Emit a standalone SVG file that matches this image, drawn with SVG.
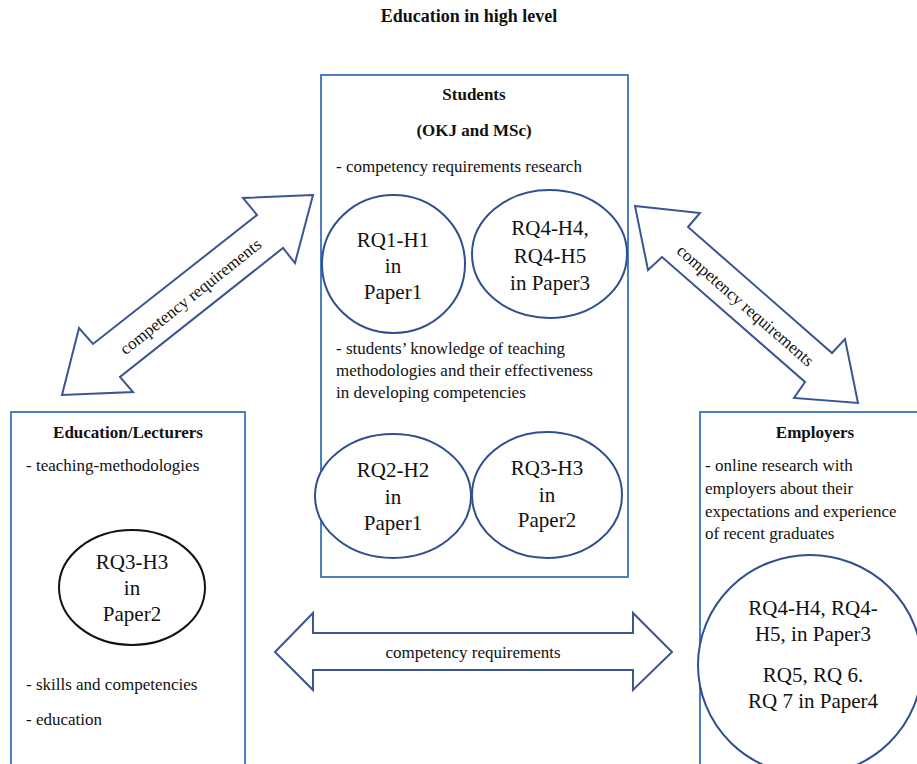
<svg xmlns="http://www.w3.org/2000/svg" width="917" height="764" viewBox="0 0 917 764">
<rect width="917" height="764" fill="#fff"/>
<text font-family="'Liberation Serif'" font-size="18" font-weight="bold" text-anchor="middle" fill="#111" x="469" y="22">Education in high level</text>
<g id="connectors">
<polygon fill="#fff" stroke="#3a5592" stroke-width="2" points="313,195 243,198 257,215 93,344 79,328 62,395 133,392 120,377 283,248 295,263"/>
<polygon fill="#fff" stroke="#3a5592" stroke-width="2" points="635,206 700,213 688,227 832,353 845,339 858,403 794,398 805,382 662,257 648,270"/>
<polygon fill="#fff" stroke="#3a5592" stroke-width="2" points="275,652 313,613 313,633 633,633 633,613 672,652 633,690 633,670 313,670 313,690"/>
<text font-family="'Liberation Serif'" font-size="17" text-anchor="middle" fill="#111" transform="translate(191,297) rotate(-38.5)" y="5">competency requirements</text>
<text font-family="'Liberation Serif'" font-size="17" text-anchor="middle" fill="#111" transform="translate(745,306) rotate(41)" y="5">competency requirements</text>
<text font-family="'Liberation Serif'" font-size="17" text-anchor="middle" fill="#111" x="473" y="658">competency requirements</text>
</g>
<g id="students">
<rect x="321" y="75" width="307" height="502" fill="#fff" stroke="#4a7fc4" stroke-width="2"/>
<ellipse cx="393.5" cy="264" rx="71.5" ry="69" fill="#fff" stroke="#2f4f8f" stroke-width="2"/>
<ellipse cx="549.5" cy="254" rx="77.5" ry="64" fill="#fff" stroke="#2f4f8f" stroke-width="2"/>
<ellipse cx="393" cy="496" rx="78" ry="62" fill="#fff" stroke="#2f4f8f" stroke-width="2"/>
<ellipse cx="547" cy="495" rx="75" ry="63" fill="#fff" stroke="#2f4f8f" stroke-width="2"/>
<text font-family="'Liberation Serif'" font-size="17" fill="#111" font-weight="bold" text-anchor="middle" x="474" y="100">Students</text>
<text font-family="'Liberation Serif'" font-size="17" fill="#111" font-weight="bold" text-anchor="middle" x="474" y="136">(OKJ and MSc)</text>
<text font-family="'Liberation Serif'" font-size="17" fill="#111" x="336" y="172">- competency requirements research</text>
<text font-family="'Liberation Serif'" font-size="17" fill="#111" x="336" y="354">- students&#8217; knowledge of teaching</text>
<text font-family="'Liberation Serif'" font-size="17" fill="#111" x="336" y="376">methodologies and their effectiveness</text>
<text font-family="'Liberation Serif'" font-size="17" fill="#111" x="336" y="398">in developing competencies</text>
<text font-family="'Liberation Serif'" font-size="21" text-anchor="middle" fill="#111" x="393" y="247">RQ1-H1</text>
<text font-family="'Liberation Serif'" font-size="21" text-anchor="middle" fill="#111" x="393" y="273">in</text>
<text font-family="'Liberation Serif'" font-size="21" text-anchor="middle" fill="#111" x="393" y="299">Paper1</text>
<text font-family="'Liberation Serif'" font-size="21" text-anchor="middle" fill="#111" x="550" y="235">RQ4-H4,</text>
<text font-family="'Liberation Serif'" font-size="21" text-anchor="middle" fill="#111" x="550" y="263">RQ4-H5</text>
<text font-family="'Liberation Serif'" font-size="21" text-anchor="middle" fill="#111" x="550" y="290">in Paper3</text>
<text font-family="'Liberation Serif'" font-size="21" text-anchor="middle" fill="#111" x="393" y="477">RQ2-H2</text>
<text font-family="'Liberation Serif'" font-size="21" text-anchor="middle" fill="#111" x="393" y="504">in</text>
<text font-family="'Liberation Serif'" font-size="21" text-anchor="middle" fill="#111" x="393" y="530">Paper1</text>
<text font-family="'Liberation Serif'" font-size="21" text-anchor="middle" fill="#111" x="547" y="475">RQ3-H3</text>
<text font-family="'Liberation Serif'" font-size="21" text-anchor="middle" fill="#111" x="547" y="502">in</text>
<text font-family="'Liberation Serif'" font-size="21" text-anchor="middle" fill="#111" x="547" y="527">Paper2</text>
</g>
<g id="education">
<rect x="11" y="412" width="234" height="400" fill="#fff" stroke="#4a7fc4" stroke-width="2"/>
<ellipse cx="132" cy="587.5" rx="73" ry="57.5" fill="#fff" stroke="#111" stroke-width="2"/>
<text font-family="'Liberation Serif'" font-size="17" fill="#111" font-weight="bold" text-anchor="middle" x="128" y="438">Education/Lecturers</text>
<text font-family="'Liberation Serif'" font-size="17" fill="#111" x="26" y="471">- teaching-methodologies</text>
<text font-family="'Liberation Serif'" font-size="17" fill="#111" x="26" y="690">- skills and competencies</text>
<text font-family="'Liberation Serif'" font-size="17" fill="#111" x="26" y="725">- education</text>
<text font-family="'Liberation Serif'" font-size="21" text-anchor="middle" fill="#111" x="132" y="569">RQ3-H3</text>
<text font-family="'Liberation Serif'" font-size="21" text-anchor="middle" fill="#111" x="132" y="595">in</text>
<text font-family="'Liberation Serif'" font-size="21" text-anchor="middle" fill="#111" x="132" y="621">Paper2</text>
</g>
<g id="employers">
<rect x="700" y="412" width="240" height="400" fill="#fff" stroke="#4a7fc4" stroke-width="2"/>
<ellipse cx="810" cy="665" rx="112" ry="110" fill="#fff" stroke="#2f4f8f" stroke-width="2"/>
<text font-family="'Liberation Serif'" font-size="17" fill="#111" font-weight="bold" text-anchor="middle" x="815" y="438">Employers</text>
<text font-family="'Liberation Serif'" font-size="17" fill="#111" x="705" y="471">- online research with</text>
<text font-family="'Liberation Serif'" font-size="17" fill="#111" x="705" y="494">employers about their</text>
<text font-family="'Liberation Serif'" font-size="17" fill="#111" x="705" y="517">expectations and experience</text>
<text font-family="'Liberation Serif'" font-size="17" fill="#111" x="705" y="539">of recent graduates</text>
<text font-family="'Liberation Serif'" font-size="21" text-anchor="middle" fill="#111" x="813" y="615">RQ4-H4, RQ4-</text>
<text font-family="'Liberation Serif'" font-size="21" text-anchor="middle" fill="#111" x="813" y="641">H5, in Paper3</text>
<text font-family="'Liberation Serif'" font-size="21" text-anchor="middle" fill="#111" x="813" y="682">RQ5, RQ 6.</text>
<text font-family="'Liberation Serif'" font-size="21" text-anchor="middle" fill="#111" x="813" y="708">RQ 7 in Paper4</text>
</g>
</svg>
